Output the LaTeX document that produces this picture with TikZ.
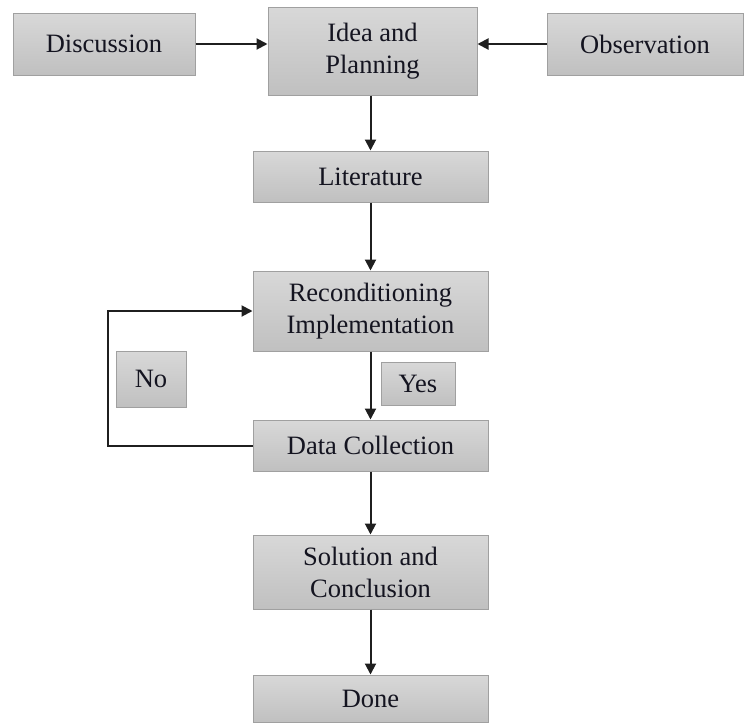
\documentclass[tikz,border=0pt]{standalone}
\usepackage{fontspec}
\setmainfont{Liberation Serif}
\usetikzlibrary{arrows.meta}
\definecolor{boxtop}{RGB}{216,216,216}
\definecolor{boxbot}{RGB}{192,192,192}
\definecolor{boxline}{RGB}{160,160,160}
\definecolor{txt}{RGB}{20,20,32}
\tikzset{
  box/.style={draw=boxline, line width=1pt, top color=boxtop, bottom color=boxbot,
    text=txt, align=center, inner sep=2pt, font=\fontsize{26.5}{32}\selectfont},
  conn/.style={line width=2pt, draw=black!88, -{Triangle[length=11pt,width=11pt]}}
}
\begin{document}
\begin{tikzpicture}[x=1pt,y=-1pt]
\useasboundingbox (0,0) rectangle (745,724);
\node[box, minimum width=182pt, minimum height=62pt] (disc) at (104,44) {Discussion};
\node[box, minimum width=209pt, minimum height=88pt] (idea) at (372.5,51) {Idea and\\Planning};
\node[box, minimum width=196pt, minimum height=62pt] (obs) at (645,44) {Observation};
\node[box, minimum width=235pt, minimum height=51pt] (lit) at (370.5,176.5) {Literature};
\node[box, minimum width=235pt, minimum height=80pt] (rec) at (370.5,311) {Reconditioning\\Implementation};
\node[box, minimum width=74pt, minimum height=43pt] (yes) at (418,383.5) {Yes};
\node[box, minimum width=70pt, minimum height=56pt] (no) at (151,379) {No};
\node[box, minimum width=235pt, minimum height=51pt] (data) at (370.5,445.5) {Data Collection};
\node[box, minimum width=235pt, minimum height=74pt] (sol) at (370.5,572) {Solution and\\Conclusion};
\node[box, minimum width=235pt, minimum height=47pt] (done) at (370.5,698.5) {Done};
\coordinate (loop) at (108,441);

\draw[conn] (disc.east) -- (disc.east -| idea.west);
\draw[conn] (obs.west) -- (obs.west -| idea.east);
\draw[conn] (lit.north |- idea.south) -- (lit.north);
\draw[conn] (lit.south) -- (rec.north);
\draw[conn] (rec.south) -- (data.north);
\draw[conn] (data.south) -- (sol.north);
\draw[conn] (sol.south) -- (done.north);
\draw[conn] (data.west) -- (data.west -| loop) |- (rec.west);
\end{tikzpicture}
\end{document}
